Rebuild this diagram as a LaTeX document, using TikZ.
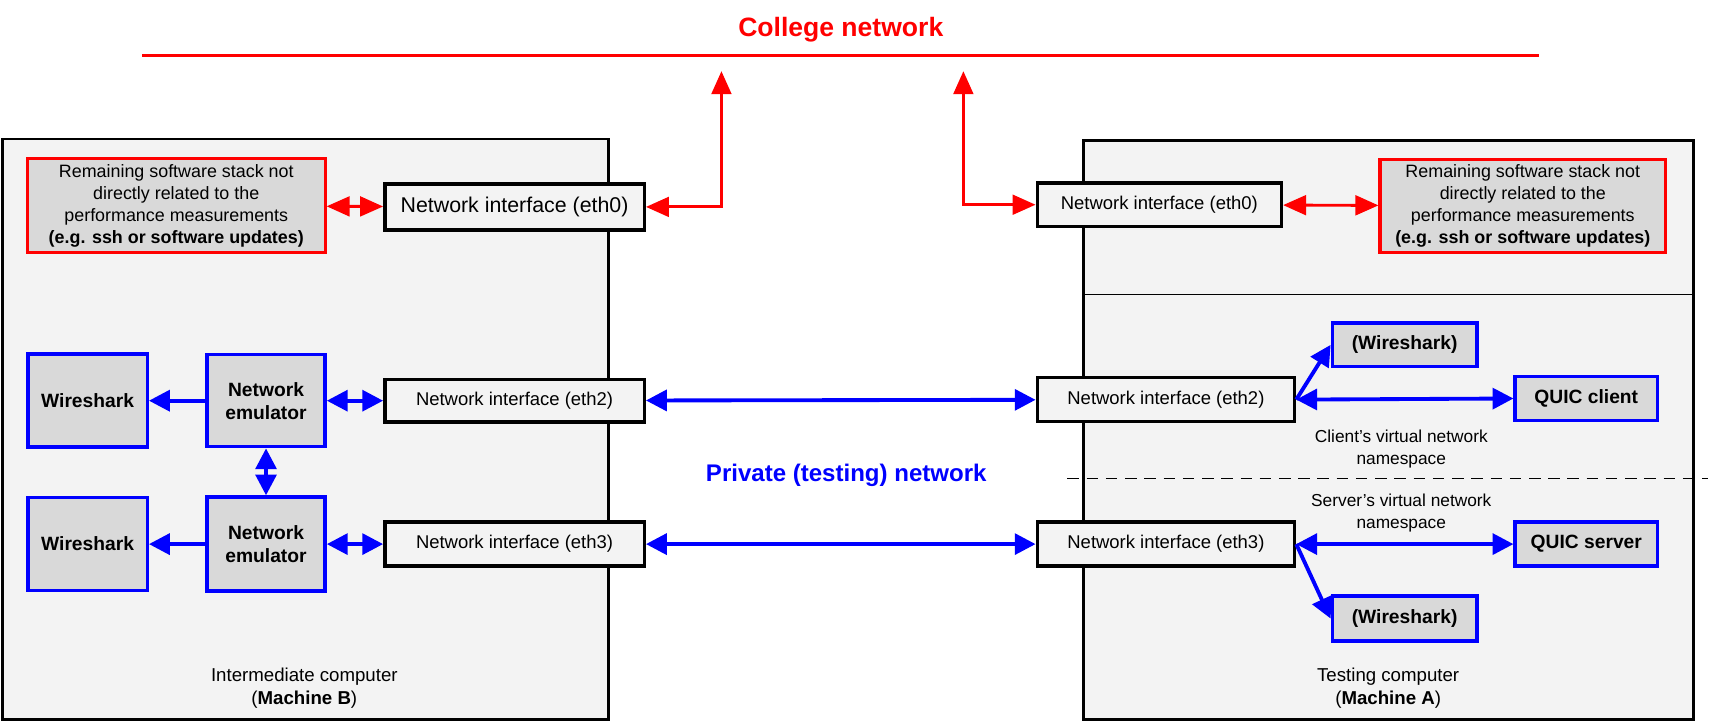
\documentclass[tikz,border=0pt]{standalone}
\usepackage{fontspec}
\setmainfont{Liberation Sans}
\usetikzlibrary{arrows.meta}
\definecolor{boxgray}{HTML}{D9D9D9}
\definecolor{machgray}{HTML}{F3F3F3}
\begin{document}
\begin{tikzpicture}[x=0.02cm,y=-0.02cm,
  font=\fontsize{9}{11.4}\selectfont,
  machine/.style={draw=black,line width=1.5pt,fill=machgray},
  iface/.style={draw=black,line width=1.8pt,fill=machgray,inner sep=0pt,font=\fontsize{9.6}{11.4}\selectfont},
  stackbox/.style={draw=red,line width=1.6pt,fill=boxgray,align=center,inner sep=0pt,font=\fontsize{9.3}{11.4}\selectfont},
  toolbox/.style={draw=blue,line width=1.8pt,fill=boxgray,font=\fontsize{10}{12}\selectfont\bfseries,align=center,inner sep=0pt},
  redlink/.style={draw=red,line width=1.5pt,>={Triangle[length=0.42cm,width=0.36cm]},<->},
  bluelink/.style={draw=blue,line width=2pt,>={Triangle[length=0.38cm,width=0.38cm]},<->},
  blueto/.style={draw=blue,line width=2pt,>={Triangle[length=0.38cm,width=0.38cm]},->},
  notetext/.style={align=center}]
\useasboundingbox (0,0) rectangle (1562,664);
\draw[machine] (2,127) rectangle (556,657);
\draw[machine] (990,128) rectangle (1547,657);
\draw[line width=0.8pt] (990,269) -- (1547,269);
\draw[line width=0.8pt,dash pattern=on 6pt off 4pt] (975,437) -- (1560,437);

\node[font=\fontsize{13.8}{16}\selectfont\bfseries,text=red] (college) at (768,27) {College network};
\coordinate (netL) at (130,51);
\coordinate (netR) at (1406,51);
\draw[red,line width=1.5pt] (netL) -- (netR);
\coordinate (upB) at (659,65);
\coordinate (upA) at (880,65);

\node[stackbox,minimum width=5.44cm,minimum height=1.72cm] (lstack) at (161,188) {Remaining software stack not\\directly related to the\\performance measurements\\\textbf{(e.g. ssh or software updates)}};
\node[iface,minimum width=4.74cm,minimum height=0.84cm,font=\fontsize{11.1}{13}\selectfont] (leth0) at (470,189) {Network interface (eth0)};
\node[iface,minimum width=4.46cm,minimum height=0.80cm] (reth0) at (1059,187) {Network interface (eth0)};
\node[stackbox,minimum width=5.22cm,minimum height=1.70cm] (rstack) at (1391,188) {Remaining software stack not\\directly related to the\\performance measurements\\\textbf{(e.g. ssh or software updates)}};

\node[toolbox,minimum width=2.18cm,minimum height=1.70cm] (lws1) at (80,366) {Wireshark};
\node[toolbox,minimum width=2.16cm,minimum height=1.68cm] (lemu1) at (243,366) {Network\\emulator};
\node[iface,minimum width=4.74cm,minimum height=0.78cm] (leth2) at (470,366) {Network interface (eth2)};
\node[toolbox,minimum width=2.18cm,minimum height=1.70cm] (lws2) at (80,497) {Wireshark};
\node[toolbox,minimum width=2.16cm,minimum height=1.72cm] (lemu2) at (243,497) {Network\\emulator};
\node[iface,minimum width=4.74cm,minimum height=0.80cm] (leth3) at (470,497) {Network interface (eth3)};

\node[iface,minimum width=4.70cm,minimum height=0.80cm] (reth2) at (1065,365) {Network interface (eth2)};
\node[iface,minimum width=4.70cm,minimum height=0.80cm] (reth3) at (1065,497) {Network interface (eth3)};
\node[toolbox,minimum width=2.64cm,minimum height=0.80cm] (rws1) at (1283,315) {(Wireshark)};
\node[toolbox,minimum width=2.60cm,minimum height=0.80cm] (qclient) at (1449,364) {QUIC client};
\node[toolbox,minimum width=2.60cm,minimum height=0.80cm] (qserver) at (1449,497) {QUIC server};
\node[toolbox,minimum width=2.64cm,minimum height=0.82cm] (rws2) at (1283,565) {(Wireshark)};

\node[notetext] (clientns) at (1280,410) {Client’s virtual network\\namespace};
\node[notetext] (serverns) at (1280,469) {Server’s virtual network\\namespace};
\node[font=\fontsize{12.5}{15}\selectfont\bfseries,text=blue] (private) at (773,434) {Private (testing) network};
\node[notetext,font=\fontsize{9.7}{12}\selectfont] (machB) at (278,629) {Intermediate computer\\(\textbf{Machine B})};
\node[notetext,font=\fontsize{9.7}{12}\selectfont] (machA) at (1268,629) {Testing computer\\(\textbf{Machine A})};

\draw[redlink] (lstack) -- (leth0);
\draw[redlink] (leth0.east) -| (upB);
\draw[redlink] (upA) |- (reth0.west);
\draw[redlink] (reth0) -- (rstack);

\draw[blueto] (lemu1) -- (lws1);
\draw[bluelink] (lemu1) -- (leth2);
\draw[bluelink] (lemu1) -- (lemu2);
\draw[blueto] (lemu2) -- (lws2);
\draw[bluelink] (lemu2) -- (leth3);
\draw[bluelink] (leth2) -- (reth2);
\draw[bluelink] (leth3) -- (reth3);
\draw[blueto] (reth2.east) -- (rws1.west);
\draw[bluelink] (reth2.east) -- (qclient.west);
\draw[bluelink] (reth3.east) -- (qserver.west);
\draw[blueto] (reth3.east) -- (rws2.west);
\end{tikzpicture}
\end{document}
